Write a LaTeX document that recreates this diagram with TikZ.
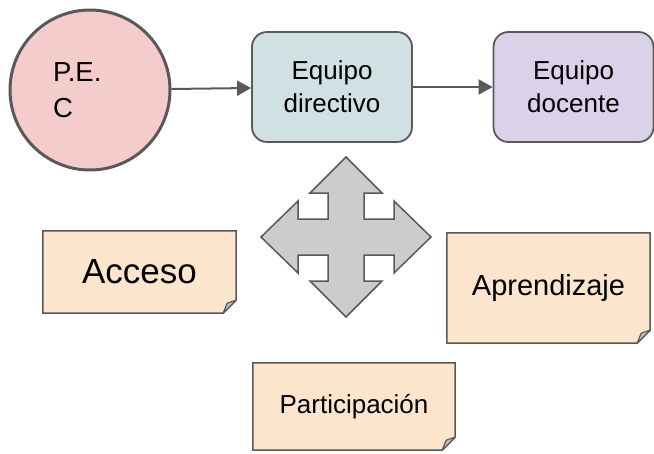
\documentclass[tikz,border=0pt]{standalone}
\usepackage{fontspec}
\setmainfont{Liberation Sans}
\usetikzlibrary{calc,arrows.meta,backgrounds}

\definecolor{edgegray}{HTML}{595959}
\definecolor{pecred}{HTML}{F4CCCC}
\definecolor{dirblue}{HTML}{D0E0E3}
\definecolor{docpurple}{HTML}{D9D2E9}
\definecolor{notepeach}{HTML}{FCE5CD}
\definecolor{foldgray}{HTML}{C8BFB4}
\definecolor{crossgray}{HTML}{CCCCCC}

% paper note with a folded corner, drawn behind the node text
\newcommand{\notepaper}[1]{%
  \begin{scope}[on background layer]
    \filldraw[fill=notepeach,draw=edgegray,line width=1.5pt]
      (#1.north west) -- (#1.north east) -- ($(#1.south east)+(0,-13)$)
      -- ($(#1.south east)+(-13,0)$) -- (#1.south west) -- cycle;
    \filldraw[fill=foldgray,draw=edgegray,line width=1.2pt,line join=round]
      ($(#1.south east)+(0,-13)$) -- ($(#1.south east)+(-13,0)$)
      -- ($(#1.south east)+(-9,-10)$) -- cycle;
  \end{scope}}

\begin{document}
\begin{tikzpicture}[x=1pt,y=-1pt,
  team/.style={draw=edgegray,line width=1.8pt,rounded corners=15pt,minimum width=160pt,minimum height=110pt,align=center,font=\fontsize{26}{33}\selectfont},
  note/.style={rectangle,inner sep=0pt},
  arrow/.style={-{Triangle[length=14pt,width=15pt]},draw=edgegray,fill=edgegray,line width=2pt}]
  \useasboundingbox (0,0) rectangle (654,453);

  \node[circle,draw=edgegray,line width=3pt,fill=pecred,minimum size=160pt,text width=74pt,align=left,font=\fontsize{27.5}{36}\selectfont] (pec) at (90,90) {P.E.\\C};
  \node[team,fill=dirblue] (directivo) at (332,87) {Equipo\\directivo};
  \node[team,fill=docpurple] (docente) at (573.5,87) {Equipo\\docente};

  \draw[arrow] (pec) -- (directivo);
  \draw[arrow] (directivo) -- (docente);

  % four-way arrow
  \coordinate (cross) at (346,237);
  \begin{scope}[shift={(cross)}]
    \filldraw[fill=crossgray,draw=edgegray,line width=1.5pt]
      (0,-80) -- (36,-44) -- (18,-44) -- (18,-18) -- (48,-18) -- (48,-36) -- (85,0)
      -- (48,36) -- (48,18) -- (18,18) -- (18,44) -- (36,44) -- (0,80)
      -- (-36,44) -- (-18,44) -- (-18,18) -- (-48,18) -- (-48,36) -- (-85,0)
      -- (-48,-36) -- (-48,-18) -- (-18,-18) -- (-18,-44) -- (-36,-44) -- cycle;
  \end{scope}

  \node[note,minimum width=193pt,minimum height=82pt,font=\fontsize{35}{40}\selectfont] (acceso) at (139.5,272) {Acceso};
  \node[note,minimum width=203pt,minimum height=110pt,font=\fontsize{29}{34}\selectfont] (aprendizaje) at (548.5,288) {Aprendizaje};
  \node[note,minimum width=202pt,minimum height=87pt,font=\fontsize{26}{30}\selectfont] (participacion) at (354,406.5) {Participación};
  \notepaper{acceso}
  \notepaper{aprendizaje}
  \notepaper{participacion}
\end{tikzpicture}
\end{document}
